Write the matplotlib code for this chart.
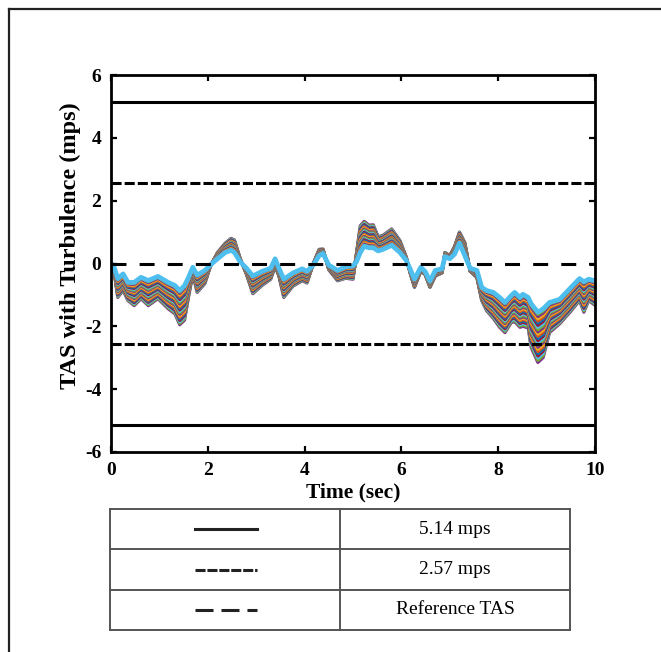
import numpy as np
import matplotlib
matplotlib.use("Agg")
import matplotlib.pyplot as plt
from matplotlib.lines import Line2D

plt.rcParams['font.family'] = ['Liberation Serif', 'DejaVu Serif']
plt.rcParams['axes.unicode_minus'] = False

# Sample times (s) for the turbulence envelope
time_s = [0.00, 0.05, 0.14, 0.25, 0.35, 0.48, 0.62, 0.77, 0.97, 1.18, 1.32, 1.42,
          1.52, 1.60, 1.69, 1.78, 1.94, 2.05, 2.20, 2.36, 2.48, 2.55, 2.67, 2.80,
          2.93, 3.12, 3.30, 3.39, 3.47, 3.57, 3.76, 3.95, 4.05, 4.18, 4.30, 4.38,
          4.50, 4.68, 4.85, 5.00, 5.07, 5.15, 5.23, 5.33, 5.42, 5.52, 5.62, 5.80,
          5.97, 6.10, 6.18, 6.27, 6.40, 6.49, 6.59, 6.70, 6.84, 6.90, 7.00, 7.10,
          7.20, 7.31, 7.42, 7.56, 7.66, 7.76, 7.90, 8.03, 8.14, 8.27, 8.34, 8.45,
          8.51, 8.62, 8.68, 8.82, 8.93, 9.06, 9.27, 9.48, 9.68, 9.77, 9.87, 10.0]

# TAS deviation for the lowest turbulence case (mps)
tas_low = [0.00, -0.05, -0.48, -0.33, -0.60, -0.60, -0.44, -0.54, -0.41, -0.60, -0.70, -0.86,
           -0.70, -0.45, -0.12, -0.37, -0.22, -0.05, 0.15, 0.35, 0.42, 0.35, 0.05, -0.15,
           -0.40, -0.25, -0.15, 0.15, -0.15, -0.50, -0.30, -0.17, -0.25, -0.05, 0.25, 0.32,
           -0.05, -0.22, -0.10, -0.08, 0.05, 0.35, 0.55, 0.50, 0.50, 0.40, 0.45, 0.58,
           0.35, 0.10, -0.17, -0.50, -0.12, -0.25, -0.56, -0.22, -0.17, 0.22, 0.15, 0.30,
           0.65, 0.25, -0.15, -0.22, -0.76, -0.86, -0.92, -1.08, -1.24, -1.02, -0.92, -1.08,
           -0.98, -1.08, -1.28, -1.55, -1.44, -1.24, -1.14, -0.80, -0.48, -0.58, -0.50, -0.55]

# TAS deviation for the highest turbulence case (mps)
tas_high = [0.00, -0.10, -1.08, -0.86, -1.18, -1.34, -1.12, -1.34, -1.12, -1.44, -1.60, -1.95,
            -1.80, -1.08, -0.33, -0.92, -0.64, -0.10, 0.35, 0.65, 0.80, 0.75, 0.15, -0.35,
            -0.96, -0.70, -0.50, -0.10, -0.40, -1.08, -0.72, -0.55, -0.62, 0.00, 0.45, 0.46,
            -0.20, -0.55, -0.47, -0.50, 0.30, 1.20, 1.34, 1.22, 1.23, 0.85, 0.90, 1.10,
            0.73, 0.20, -0.30, -0.76, -0.25, -0.35, -0.76, -0.40, -0.30, 0.35, 0.25, 0.55,
            1.00, 0.67, -0.25, -0.45, -1.18, -1.50, -1.75, -2.03, -2.20, -1.88, -1.85, -2.03,
            -2.00, -2.05, -2.67, -3.15, -2.99, -2.20, -1.92, -1.56, -1.18, -1.55, -1.18, -1.33]

# Relative turbulence intensity of each simulated run (1 = highest, 0 = lowest)
intensity = [1.00, 0.957, 0.913, 0.870, 0.826, 0.783, 0.739, 0.696, 0.652, 0.609,
             0.565, 0.522, 0.478, 0.435, 0.391, 0.348, 0.304, 0.261, 0.217, 0.174,
             0.130, 0.087, 0.043, 0.00]

# Boundaries (mps)
limit_wide = 5.14
limit_narrow = 2.57
reference_tas = 0.0

legend_labels = ["5.14 mps", "2.57 mps", "Reference TAS"]

palette = ["#0072BD", "#D95319", "#EDB120", "#7E2F8E", "#77AC30", "#4DBEEE", "#A2142F"]

W, H = 661, 652
fig = plt.figure(figsize=(W / 100, H / 100), dpi=100)
ax = fig.add_axes([111 / W, 1 - 452 / H, 484 / W, 377 / H])

t = np.array(time_s)
lo = np.array(tas_low)
hi = np.array(tas_high)
for k, w in enumerate(intensity):
    y = lo + w * (hi - lo)
    c = palette[(k + 3) % 7]
    lw = 3.4 if k == len(intensity) - 1 else 2.3
    ax.plot(t, y, color=c, lw=lw, solid_joinstyle='round', zorder=2 + k * 0.01)

ref_lw = 2.2
for s in (1, -1):
    ax.axhline(s * limit_wide, color='black', lw=ref_lw, zorder=5)
    ax.axhline(s * limit_narrow, color='black', lw=ref_lw, linestyle=(0, (3.3, 1.0)), zorder=5)
ax.axhline(reference_tas, color='black', lw=ref_lw, linestyle=(0, (4.9, 4.3)), zorder=5)

ax.set_xlim(0, 10)
ax.set_ylim(-6, 6)
ax.set_xticks(np.arange(0, 11, 2))
ax.set_yticks(np.arange(-6, 7, 2))
ax.tick_params(direction='in', length=4, width=1.6, top=True, right=True,
               labelsize=14, pad=7)
for lab in ax.get_xticklabels() + ax.get_yticklabels():
    lab.set_fontweight('bold')
for sp in ax.spines.values():
    sp.set_linewidth(2.0)
ax.set_xlabel("Time (sec)", fontsize=15.5, fontweight='bold', labelpad=3)
ax.set_ylabel("TAS with Turbulence (mps)", fontsize=17.5, fontweight='bold')
ax.yaxis.set_label_coords(-0.062, 0.548)

# Legend table below the plot
tx = fig.add_axes([110 / W, 1 - 630 / H, 460 / W, 121 / H])
tx.set_xlim(0, 1)
tx.set_ylim(0, 3)
tx.axis('off')
grid_c = '#555555'
for yv in (0, 1, 2, 3):
    tx.plot([0, 1], [yv, yv], color=grid_c, lw=1.4, clip_on=False, solid_capstyle='projecting')
for xv in (0, 0.5, 1):
    tx.plot([xv, xv], [0, 3], color=grid_c, lw=1.4, clip_on=False, solid_capstyle='projecting')

styles = ['-', (0, (3.3, 0.6)), (0, (5.9, 2.6))]
for i, (lab, ls) in enumerate(zip(legend_labels, styles)):
    yc = 2.5 - i
    tx.plot([0.185, 0.32], [yc, yc], color='#222222', lw=2.2, linestyle=ls, clip_on=False)
    tx.text(0.75, yc, lab, ha='center', va='center', fontsize=14)

# Page frame
fig.add_artist(Line2D([9 / W, 1], [1 - 9 / H, 1 - 9 / H], transform=fig.transFigure,
                      color='#222222', lw=1.6))
fig.add_artist(Line2D([9 / W, 9 / W], [0, 1 - 9 / H], transform=fig.transFigure,
                      color='#222222', lw=1.6))

fig.savefig("out.png", dpi=100)
